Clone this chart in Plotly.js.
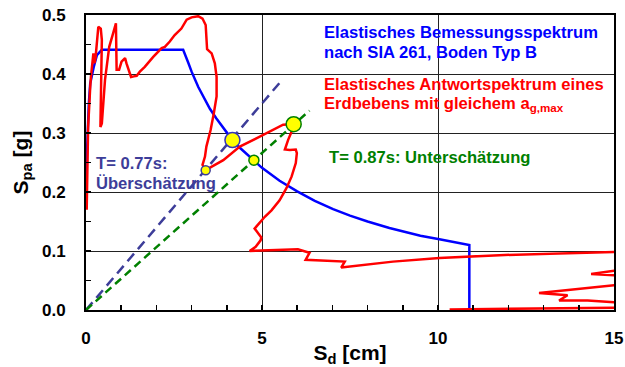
<!DOCTYPE html>
<html>
<head>
<meta charset="utf-8">
<script src="https://cdn.plot.ly/plotly-3.0.1.min.js"></script>
<style>
  html, body { margin: 0; padding: 0; background: #fff; }
  #chart { width: 625px; height: 367px; }
</style>
</head>
<body>
<div id="chart"></div>
<script>
// Elastic design spectrum, SIA 261, ground type B (ADRS: Sd [cm] vs Spa [g])
const designSd  = [0, 0.03, 0.08, 0.12, 0.22, 0.31, 0.45, 2.76, 2.9, 3.0, 3.19, 3.35, 3.52, 3.7, 3.94, 4.16, 4.37, 4.77, 5.0, 5.5, 6.0, 6.5, 7.02, 7.5, 8.0, 8.62, 9.0, 9.5, 10.04, 10.5, 10.89, 10.89];
const designSpa = [0.18, 0.27, 0.35, 0.384, 0.412, 0.432, 0.441, 0.441, 0.42, 0.404, 0.378, 0.36, 0.341, 0.325, 0.305, 0.288, 0.275, 0.253, 0.241, 0.219, 0.201, 0.185, 0.171, 0.16, 0.15, 0.139, 0.133, 0.126, 0.12, 0.114, 0.11, 0];

// Elastic response spectrum of a recorded earthquake with the same a_g,max
const quakeSd  = [0.02, 0.06, 0.12, 0.14, 0.21, 0.24, 0.27, 0.35, 0.42, 0.45, 0.41, 0.45, 0.54, 0.66, 0.77, 0.85, 0.87, 0.94, 1.01, 1.11, 1.15, 1.28, 1.36, 1.44, 1.53, 1.67, 1.91, 2.15, 2.24, 2.38, 2.52, 2.71, 2.86, 3.0, 3.19, 3.31, 3.4, 3.42, 3.44, 3.57, 3.66, 3.71, 3.71, 3.63, 3.54, 3.42, 3.38, 3.31, 3.4, 3.9, 4.37, 4.84, 5.31, 5.6, 5.9, 5.88, 5.74, 5.65, 5.79, 5.96, 5.99, 5.96, 5.84, 5.69, 5.5, 5.27, 5.08, 4.84, 4.79, 4.98, 4.96, 4.82, 4.65, 6.02, 6.35, 6.24, 7.35, 7.25, 8.72, 10.04, 10.89, 11.74, 15.3, 15.3, 14.35, 15.3, 15.3, 12.87, 13.68, 13.44, 14.25, 15.3, 15.3, 10.33];
const quakeSpa = [0.17, 0.31, 0.378, 0.395, 0.435, 0.418, 0.427, 0.48, 0.477, 0.458, 0.31, 0.316, 0.39, 0.446, 0.469, 0.486, 0.407, 0.407, 0.421, 0.427, 0.418, 0.395, 0.396, 0.397, 0.404, 0.412, 0.429, 0.444, 0.446, 0.455, 0.466, 0.477, 0.492, 0.496, 0.498, 0.494, 0.483, 0.463, 0.442, 0.435, 0.418, 0.395, 0.362, 0.333, 0.305, 0.277, 0.26, 0.246, 0.237, 0.254, 0.277, 0.291, 0.305, 0.314, 0.315, 0.308, 0.288, 0.272, 0.271, 0.272, 0.266, 0.249, 0.226, 0.206, 0.186, 0.169, 0.158, 0.141, 0.138, 0.123, 0.118, 0.107, 0.1, 0.103, 0.097, 0.085, 0.082, 0.072, 0.082, 0.088, 0.09, 0.093, 0.099, 0.069, 0.061, 0.058, 0.044, 0.029, 0.025, 0.016, 0.016, 0.012, 0.004, 0.001];

// Period rays through the origin (T = 0.77 s and T = 0.87 s)
const rayT077Sd  = [0, 5.6];
const rayT077Spa = [0, 0.392];
const rayT087Sd  = [0, 6.35];
const rayT087Spa = [0, 0.338];

// Intersection points
const bigT077 = { sd: 4.16, spa: 0.288 };
const smallT077 = { sd: 3.4, spa: 0.237 };
const bigT087 = { sd: 5.9, spa: 0.315 };
const smallT087 = { sd: 4.77, spa: 0.254 };

const FONT = 'Liberation Sans, Arial, Helvetica, sans-serif';
const SLATE = '#3d3d99';
const GREEN = '#008000';

const traces = [
  { x: rayT077Sd, y: rayT077Spa, mode: 'lines', line: { color: SLATE, width: 2.5, dash: '10px,6px' }, hoverinfo: 'skip' },
  { x: rayT087Sd, y: rayT087Spa, mode: 'lines', line: { color: GREEN, width: 2.5, dash: '8px,5px' }, hoverinfo: 'skip' },
  { x: designSd, y: designSpa, mode: 'lines', line: { color: '#0000ff', width: 2.5 } },
  { x: quakeSd, y: quakeSpa, mode: 'lines', line: { color: '#ff0000', width: 2.5 } },
  { x: [bigT077.sd], y: [bigT077.spa], mode: 'markers', marker: { color: '#ffff00', size: 15, line: { color: '#3333bb', width: 1.5 } } },
  { x: [smallT077.sd], y: [smallT077.spa], mode: 'markers', marker: { color: '#ffff00', size: 9, line: { color: SLATE, width: 1.5 } } },
  { x: [bigT087.sd], y: [bigT087.spa], mode: 'markers', marker: { color: '#ffff00', size: 15, line: { color: GREEN, width: 1.5 } } },
  { x: [smallT087.sd], y: [smallT087.spa], mode: 'markers', marker: { color: '#ffff00', size: 10, line: { color: GREEN, width: 1.5 } } }
];

function note(text, x, y, color) {
  return {
    text: text, x: x, y: y, xref: 'x', yref: 'y',
    xanchor: 'left', yanchor: 'middle', showarrow: false,
    font: { family: FONT, size: 16.6, color: color, weight: 'bold' }
  };
}

const layout = {
  width: 625, height: 367,
  margin: { l: 86, r: 11, t: 15, b: 57 },
  paper_bgcolor: '#fff', plot_bgcolor: '#fff',
  showlegend: false,
  font: { family: FONT, color: '#000' },
  xaxis: {
    range: [0, 15], dtick: 5, tick0: 0,
    showgrid: true, gridcolor: '#222', gridwidth: 1,
    zeroline: false,
    showline: true, linecolor: '#000', linewidth: 2, mirror: true,
    ticks: 'inside', ticklen: 5, tickwidth: 1.5, tickcolor: '#000',
    minor: { dtick: 1, ticks: 'inside', ticklen: 5, tickwidth: 1.5, tickcolor: '#000', showgrid: false },
    tickfont: { family: FONT, size: 17, weight: 'bold' },
    ticklabelstandoff: 12,
    title: { text: 'S<sub>d</sub> [cm]', font: { family: FONT, size: 21, weight: 'bold' }, standoff: 2 }
  },
  yaxis: {
    range: [0, 0.5], dtick: 0.1, tick0: 0, tickformat: '.1f',
    showgrid: true, gridcolor: '#222', gridwidth: 1,
    zeroline: false,
    showline: true, linecolor: '#000', linewidth: 2, mirror: true,
    ticks: 'inside', ticklen: 5, tickwidth: 1.5, tickcolor: '#000',
    minor: { dtick: 0.05, ticks: 'inside', ticklen: 5, tickwidth: 1.5, tickcolor: '#000', showgrid: false },
    tickfont: { family: FONT, size: 17, weight: 'bold' },
    ticklabelstandoff: 15,
    title: { text: 'S<sub>pa</sub> [g]', font: { family: FONT, size: 21, weight: 'bold' }, standoff: 8 }
  },
  annotations: [
    note('Elastisches Bemessungsspektrum', 6.7, 0.471, '#0000ff'),
    note('nach SIA 261, Boden Typ B', 6.7, 0.437, '#0000ff'),
    note('Elastisches Antwortspektrum eines', 6.7, 0.382, '#ff0000'),
    note('Erdbebens mit gleichem a<sub>g,max</sub>', 6.7, 0.349, '#ff0000'),
    note('T= 0.87s: Unterschätzung', 6.84, 0.258, GREEN),
    note('T= 0.77s:', 0.22, 0.249, SLATE),
    note('Überschätzung', 0.22, 0.215, SLATE)
  ]
};

Plotly.newPlot('chart', traces, layout, { displayModeBar: false, staticPlot: true });
</script>
</body>
</html>
